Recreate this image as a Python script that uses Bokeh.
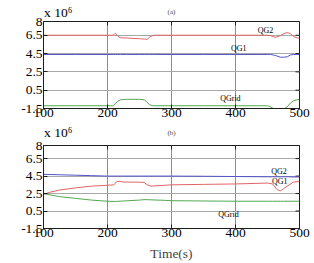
import math

from bokeh.plotting import figure
from bokeh.models import LinearAxis, Range1d, FixedTicker, Label
from bokeh.layouts import column
from bokeh.embed import file_html
from bokeh.resources import INLINE

# Panel (a): reactive power of the two generators and the grid
t_a = [100, 150, 200, 209, 212, 216, 220, 230, 240, 250, 258, 262, 266, 272, 300,
       350, 400, 440, 450, 455, 462, 470, 475, 481, 486, 491, 496, 500]
qg2_a = [6.5, 6.5, 6.5, 6.5, 6.72, 6.4, 6.22, 6.2, 6.15, 6.12, 6.08, 6.05, 6.3, 6.5, 6.5,
         6.5, 6.5, 6.5, 6.5, 6.45, 6.27, 6.45, 6.65, 6.8, 6.65, 6.35, 6.22, 6.16]
qg1_a = [4.4, 4.4, 4.4, 4.4, 4.4, 4.4, 4.4, 4.4, 4.4, 4.4, 4.4, 4.4, 4.4, 4.4, 4.4,
         4.4, 4.4, 4.4, 4.4, 4.4, 4.3, 4.1, 4.1, 4.15, 4.35, 4.4, 4.4, 4.4]
qgrid_a = [-1.2, -1.2, -1.2, -1.2, -1.0, -0.7, -0.55, -0.5, -0.5, -0.5, -0.55, -0.85, -1.1,
           -1.2, -1.2, -1.2, -1.2, -1.2, -1.2, -1.35, -1.6, -1.65, -1.6, -1.3, -0.9,
           -0.65, -0.55, -0.5]

# Panel (b)
t_b = [100, 110, 125, 150, 175, 200, 210, 214, 218, 225, 250, 257, 262, 268, 290, 300,
       350, 400, 450, 458, 465, 470, 475, 482, 490, 500]
qg2_b = [4.7, 4.68, 4.65, 4.6, 4.55, 4.5, 4.5, 4.5, 4.5, 4.5, 4.5, 4.5, 4.5, 4.5, 4.5, 4.5,
         4.48, 4.45, 4.42, 4.42, 4.42, 4.42, 4.42, 4.42, 4.4, 4.4]
qg1_b = [2.4, 2.65, 2.9, 3.15, 3.35, 3.45, 3.5, 3.85, 3.9, 3.82, 3.8, 3.78, 3.5, 3.35, 3.45,
         3.5, 3.55, 3.6, 3.7, 3.6, 2.95, 2.8, 3.05, 3.4, 3.8, 3.9]
qgrid_b = [2.5, 2.35, 2.15, 1.95, 1.75, 1.62, 1.6, 1.6, 1.62, 1.65, 1.75, 1.8, 1.8, 1.78,
           1.72, 1.68, 1.65, 1.62, 1.62, 1.62, 1.62, 1.62, 1.62, 1.62, 1.62, 1.62]

x_ticks = [100, 200, 300, 400, 500]
y_ticks = [-1.5, 0.5, 2.5, 4.5, 6.5, 8]
y_tick_labels = {-1.5: "-1.5", 0.5: "0.5", 2.5: "2.5", 4.5: "4.5", 6.5: "6.5", 8: "8"}
scale_text = "x 10\u2076"

RED = "#e06464"
BLUE = "#5252c8"
GREEN = "#52a852"
INK = "#1e1e1e"
SERIF = "Liberation Serif"


def panel(height, top, bottom, tag, series, names, head_gap, tag_gap, xlabel=None):
    p = figure(width=314, height=height, output_backend="svg", toolbar_location=None,
               x_range=Range1d(100, 500), y_range=Range1d(-1.5, 8),
               min_border_left=43, min_border_right=15,
               min_border_top=top, min_border_bottom=bottom)
    p.background_fill_color = "white"
    p.outline_line_color = INK
    p.outline_line_width = 1

    xa = p.below[0]
    ya = p.left[0]
    xa.ticker = FixedTicker(ticks=x_ticks)
    ya.ticker = FixedTicker(ticks=y_ticks)
    ya.major_label_overrides = y_tick_labels
    for ax in (xa, ya):
        ax.major_tick_in = 4
        ax.major_tick_out = 0
        ax.minor_tick_line_color = None
        ax.axis_line_color = INK
        ax.major_tick_line_color = INK
        ax.major_label_text_font = SERIF
        ax.major_label_text_font_size = "13.5px"
        ax.major_label_text_color = "black"
        ax.major_label_standoff = 1
    xa.major_label_standoff = 0

    if xlabel:
        xa.axis_label = xlabel
        xa.axis_label_text_font = SERIF
        xa.axis_label_text_font_style = "normal"
        xa.axis_label_text_font_size = "13.5px"
        xa.axis_label_standoff = 6

    # scale factor and panel tag, carried by an unticked axis along the top edge
    top_axis = LinearAxis(ticker=FixedTicker(ticks=[123]),
                          major_label_overrides={123: scale_text},
                          major_label_text_font=SERIF, major_label_text_font_size="13.5px",
                          major_label_text_color="black", major_label_standoff=head_gap,
                          major_tick_line_color=None, minor_tick_line_color=None,
                          axis_line_color=None,
                          axis_label=tag, axis_label_text_font=SERIF,
                          axis_label_text_font_style="normal",
                          axis_label_text_font_size="7px", axis_label_standoff=tag_gap)
    p.add_layout(top_axis, "above")

    p.xgrid.ticker = FixedTicker(ticks=x_ticks)
    p.ygrid.ticker = FixedTicker(ticks=y_ticks)
    p.xgrid.grid_line_color = "#8c8c8c"
    p.ygrid.grid_line_color = "#a8a8a8"

    # inward ticks on the right and top edges
    p.ray(x=[500] * len(y_ticks), y=y_ticks, length=4, length_units="screen",
          angle=math.pi, line_color=INK, line_width=1)
    p.ray(x=x_ticks, y=[8] * len(x_ticks), length=4, length_units="screen",
          angle=-math.pi / 2, line_color=INK, line_width=1)

    t, ys = series
    for y, c in zip(ys, (RED, BLUE, GREEN)):
        p.line(t, y, line_color=c, line_width=1)

    for (txt, lx, ly) in names:
        p.add_layout(Label(x=lx, y=ly, text=txt, text_font=SERIF, text_font_size="8px",
                           text_color="black", text_baseline="middle", text_align="center"))
    return p


pa = panel(125, 21, 17, "(a)", (t_a, (qg2_a, qg1_a, qgrid_a)),
           [("QG2", 447, 7.0), ("QG1", 405, 5.05), ("QGrid", 392, -0.4)],
           head_gap=-4, tag_gap=-14)
pb = panel(138, 17, 35, "(b)", (t_b, (qg1_b, qg2_b, qgrid_b)),
           [("QG2", 468, 5.0), ("QG1", 469, 3.9), ("QGrid", 389, 0.15)],
           head_gap=0, tag_gap=-15, xlabel="Time(s)")

layout = column(pa, pb, spacing=0)
open("out.html", "w").write(file_html(layout, INLINE))
